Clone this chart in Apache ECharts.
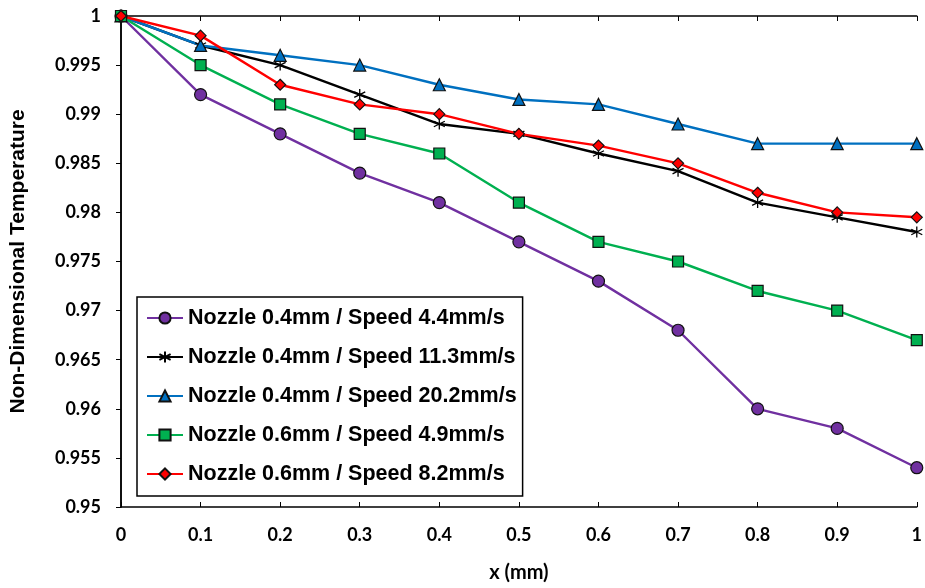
<!DOCTYPE html>
<html>
<head>
<meta charset="utf-8">
<script src="https://cdn.jsdelivr.net/npm/echarts@6/dist/echarts.min.js"></script>
<style>html,body{margin:0;padding:0;background:#fff}#c{width:925px;height:588px}</style>
</head>
<body>
<div id="c"></div>
<script>
const xValues = [0, 0.1, 0.2, 0.3, 0.4, 0.5, 0.6, 0.7, 0.8, 0.9, 1.0];
const seriesNames = [
  'Nozzle 0.4mm / Speed 4.4mm/s',
  'Nozzle 0.4mm / Speed 11.3mm/s',
  'Nozzle 0.4mm / Speed 20.2mm/s',
  'Nozzle 0.6mm / Speed 4.9mm/s',
  'Nozzle 0.6mm / Speed 8.2mm/s'
];
const s1 = [1, 0.992, 0.988, 0.984, 0.981, 0.977, 0.973, 0.968, 0.960, 0.958, 0.954];
const s2 = [1, 0.997, 0.995, 0.992, 0.989, 0.988, 0.986, 0.9842, 0.981, 0.9795, 0.978];
const s3 = [1, 0.997, 0.996, 0.995, 0.993, 0.9915, 0.991, 0.989, 0.987, 0.987, 0.987];
const s4 = [1, 0.995, 0.991, 0.988, 0.986, 0.981, 0.977, 0.975, 0.972, 0.970, 0.967];
const s5 = [1, 0.998, 0.993, 0.991, 0.990, 0.988, 0.9868, 0.985, 0.982, 0.980, 0.9795];

const pair = arr => xValues.map((x, i) => [x, arr[i]]);
const arial = 'Liberation Sans, Arial, sans-serif';
const calib = 'Lato, Carlito, Calibri, sans-serif';
const star = 'path://M0,-5L0,5M-4.33,-2.5L4.33,2.5M-4.33,2.5L4.33,-2.5';

function mk(name, data, color, symbol, size, fill) {
  return {
    name, type: 'line', data: pair(data), symbol, symbolSize: size,
    lineStyle: { color, width: 2.4 },
    itemStyle: { color: fill, borderColor: symbol === star ? '#000' : '#111', borderWidth: symbol === star ? 1.3 : 1.2 },
    emphasis: { disabled: true }, animation: false
  };
}

const chart = echarts.init(document.getElementById('c'), null, { renderer: 'canvas' });
chart.setOption({
  animation: false,
  grid: { left: 121, right: 3, top: 16, bottom: 80 },
  legend: {
    orient: 'vertical', left: 137, top: 297,
    backgroundColor: '#fff', borderColor: '#000', borderWidth: 1.5,
    padding: [10, 6, 11, 9], itemGap: 17, itemWidth: 36, itemHeight: 14,
    textStyle: { fontFamily: arial, fontWeight: 'bold', fontSize: 21.5, lineHeight: 21, color: '#000' },
    data: seriesNames
  },
  xAxis: [{
    type: 'value', min: 0, max: 1, interval: 0.1, position: 'bottom',
    name: 'x (mm)', nameLocation: 'middle', nameGap: 56,
    nameTextStyle: { fontFamily: calib, fontWeight: 'bold', fontSize: 20, color: '#000' },
    axisLine: { lineStyle: { color: '#000', width: 1.5 } },
    axisTick: { inside: true, length: 5, lineStyle: { color: '#000' } },
    axisLabel: { fontFamily: calib, fontWeight: 'bold', fontSize: 18, color: '#000', margin: 19 },
    splitLine: { show: false }
  }, {
    type: 'value', min: 0, max: 1, interval: 0.1, position: 'top',
    axisLine: { lineStyle: { color: '#000', width: 1.5 } },
    axisTick: { inside: true, length: 5, lineStyle: { color: '#000' } },
    axisLabel: { show: false }, splitLine: { show: false }
  }],
  yAxis: [{
    type: 'value', min: 0.95, max: 1, interval: 0.005, position: 'left',
    name: 'Non-Dimensional Temperature', nameLocation: 'middle', nameGap: 92,
    nameTextStyle: { fontFamily: arial, fontWeight: 'bold', fontSize: 21, color: '#000' },
    axisLine: { show: true, lineStyle: { color: '#000', width: 1.5 } },
    axisTick: { show: false },
    axisLabel: { fontFamily: calib, fontWeight: 'bold', fontSize: 18, color: '#000', margin: 20 },
    splitLine: { show: false }
  }, {
    type: 'value', min: 0.95, max: 1, interval: 0.005, position: 'right',
    axisLine: { show: true, lineStyle: { color: '#000', width: 1.5 } },
    axisTick: { show: true, inside: true, length: 5, lineStyle: { color: '#000' } },
    axisLabel: { show: false }, splitLine: { show: false }
  }],
  series: [
    mk(seriesNames[0], s1, '#7030A0', 'circle', 12, '#7030A0'),
    mk(seriesNames[1], s2, '#000000', star, 11, 'rgba(0,0,0,0)'),
    mk(seriesNames[2], s3, '#0070C0', 'triangle', 12, '#0070C0'),
    mk(seriesNames[3], s4, '#00B050', 'rect', 11, '#00B050'),
    mk(seriesNames[4], s5, '#FF0000', 'diamond', 11, '#FF0000')
  ]
});
</script>
</body>
</html>
